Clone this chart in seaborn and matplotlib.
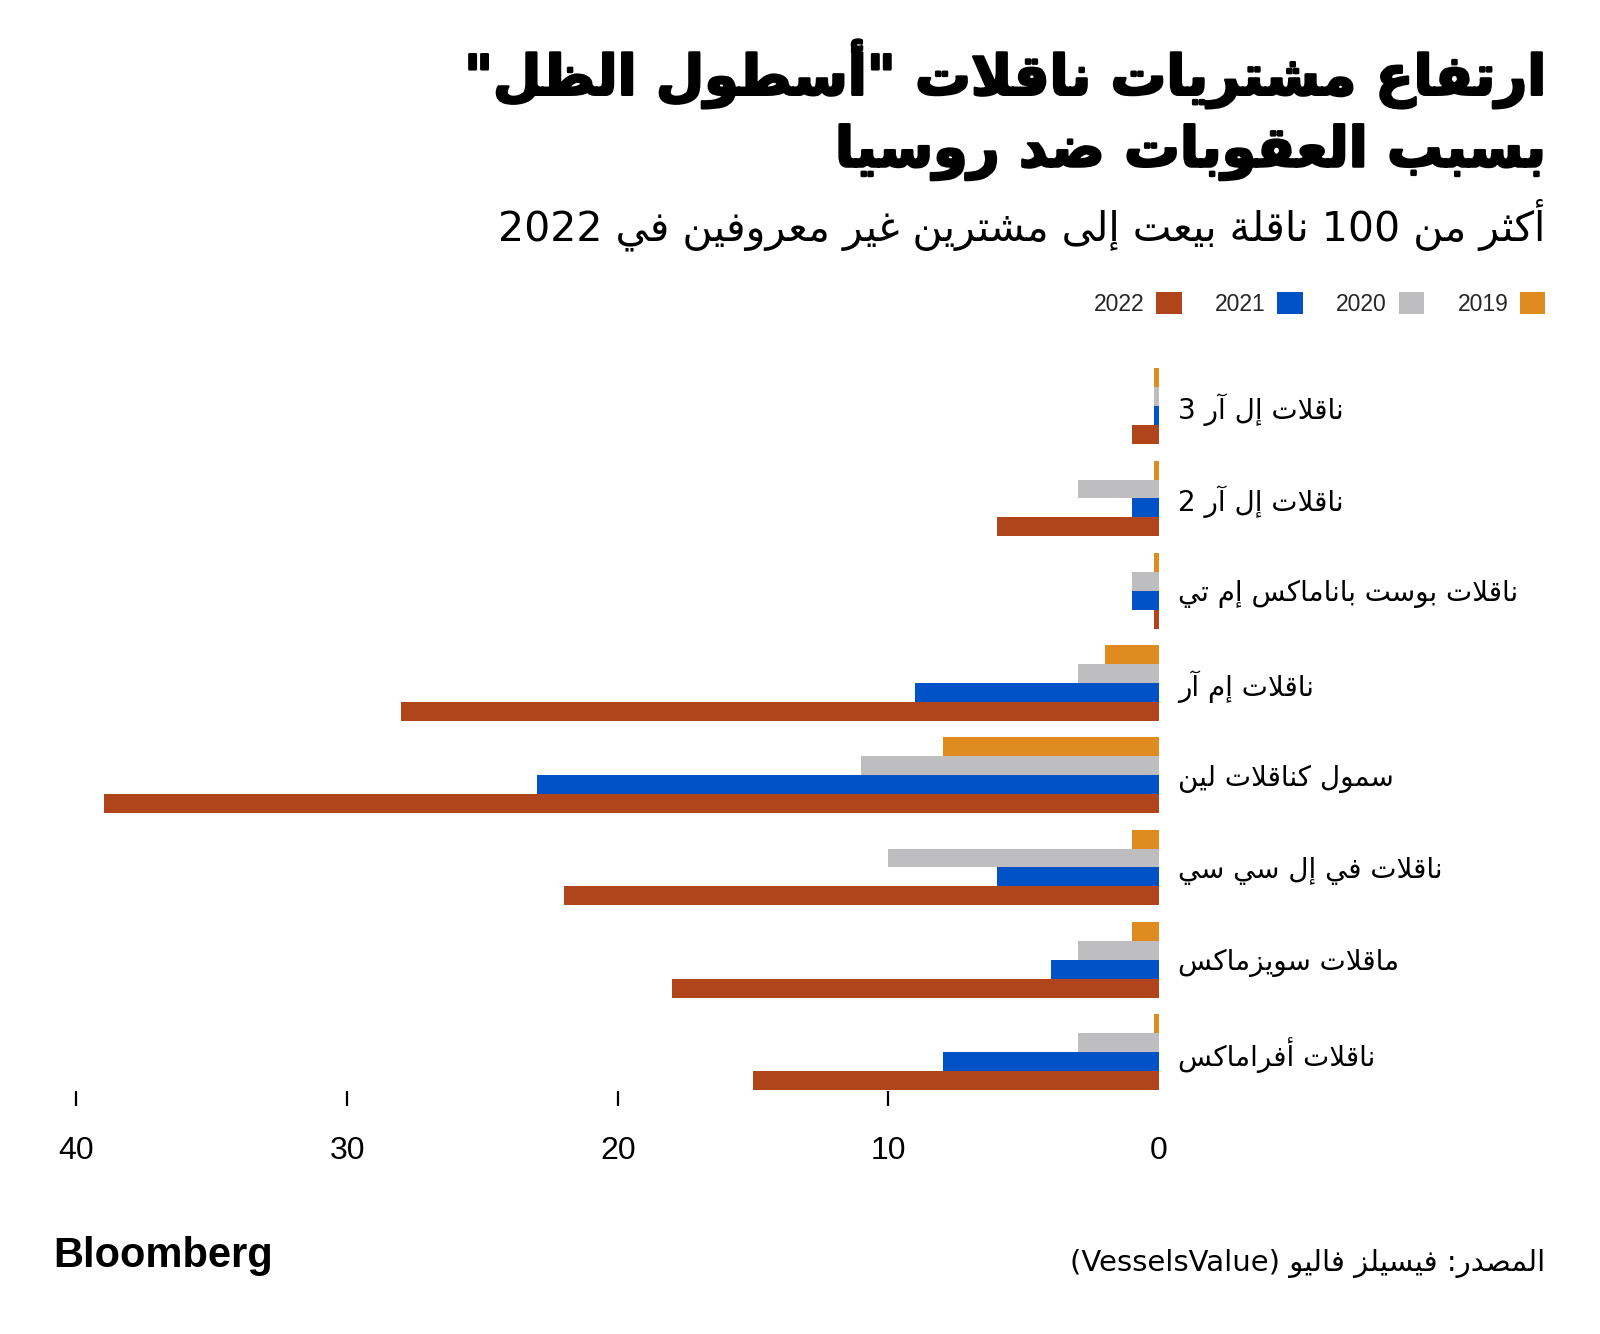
import matplotlib
matplotlib.use("Agg")
import matplotlib.pyplot as plt
import matplotlib.patheffects as pe
import seaborn as sns
import pandas as pd

# ---------------- data ----------------
categories = ["ناقلات إل آر 3", "ناقلات إل آر 2", "ناقلات بوست باناماكس إم تي",
              "ناقلات إم آر", "سمول كناقلات لين", "ناقلات في إل سي سي",
              "ماقلات سويزماكس", "ناقلات أفراماكس"]
years = ["2019", "2020", "2021", "2022"]
v2019 = [0.2, 0.2, 0.2, 2, 8, 1, 1, 0.2]
v2020 = [0.2, 3, 1, 3, 11, 10, 3, 3]
v2021 = [0.2, 1, 1, 9, 23, 6, 4, 8]
v2022 = [1, 6, 0.2, 28, 39, 22, 18, 15]
colors = ["#E08B20", "#BEBEC1", "#0052C6", "#B0451C"]
xticks = [0, 10, 20, 30, 40]

title_l1 = 'ارتفاع مشتريات ناقلات "أسطول الظل"'
title_l2 = "بسبب العقوبات ضد روسيا"
subtitle = "أكثر من 100 ناقلة بيعت إلى مشترين غير معروفين في 2022"
source = "المصدر: فيسيلز فاليو (VesselsValue)"

# ---------------- minimal Arabic shaping ----------------
_DUAL = {'ئ': 0xFE89, 'ب': 0xFE8F, 'ت': 0xFE95, 'ث': 0xFE99, 'ج': 0xFE9D, 'ح': 0xFEA1,
         'خ': 0xFEA5, 'س': 0xFEB1, 'ش': 0xFEB5, 'ص': 0xFEB9, 'ض': 0xFEBD, 'ط': 0xFEC1,
         'ظ': 0xFEC5, 'ع': 0xFEC9, 'غ': 0xFECD, 'ف': 0xFED1, 'ق': 0xFED5, 'ك': 0xFED9,
         'ل': 0xFEDD, 'م': 0xFEE1, 'ن': 0xFEE5, 'ه': 0xFEE9, 'ي': 0xFEF1}
_RIGHT = {'آ': 0xFE81, 'أ': 0xFE83, 'ؤ': 0xFE85, 'إ': 0xFE87, 'ا': 0xFE8D, 'ة': 0xFE93,
          'د': 0xFEA9, 'ذ': 0xFEAB, 'ر': 0xFEAD, 'ز': 0xFEAF, 'و': 0xFEED, 'ى': 0xFEEF}
_LAMALEF = {'آ': 0xFEF5, 'أ': 0xFEF7, 'إ': 0xFEF9, 'ا': 0xFEFB}


def ar(s):
    units = []
    i = 0
    while i < len(s):
        c = s[i]
        if c == 'ل' and i + 1 < len(s) and s[i + 1] in _LAMALEF:
            units.append(('D2R', _LAMALEF[s[i + 1]]))
            i += 2
            continue
        if c in _DUAL:
            units.append(('D', _DUAL[c]))
        elif c in _RIGHT:
            units.append(('R', _RIGHT[c]))
        else:
            units.append(('N', c))
        i += 1
    out = []
    for k, (t, v) in enumerate(units):
        if t == 'N':
            out.append(v)
            continue
        prev = k > 0 and units[k - 1][0] == 'D'
        if t in ('R', 'D2R'):
            out.append(chr(v + 1 if prev else v))
        else:
            nxt = k + 1 < len(units) and units[k + 1][0] in ('D', 'R', 'D2R')
            off = 3 if (prev and nxt) else 1 if prev else 2 if nxt else 0
            out.append(chr(v + off))
    runs, buf = [], ''
    for ch in out:
        if ch.isascii() and ch.isalnum():
            buf += ch
        else:
            if buf:
                runs.append(buf)
                buf = ''
            runs.append({'(': ')', ')': '('}.get(ch, ch))
    if buf:
        runs.append(buf)
    return ''.join(reversed(runs))


# ---------------- frame ----------------
rows = []
for yr, vals in zip(years, [v2019, v2020, v2021, v2022]):
    for cat, v in zip(categories, vals):
        rows.append({"category": ar(cat), "year": yr, "value": v})
df = pd.DataFrame(rows)

sns.set_theme(style="white")
plt.rcParams['font.family'] = ['DejaVu Sans']

fig = plt.figure(figsize=(16, 13.34), dpi=100)
fig.patch.set_facecolor("white")
ax = fig.add_axes([0.0478, 0.1824, 0.6766, 0.5421])

sns.barplot(data=df, y="category", x="value", hue="year", hue_order=years,
            order=[ar(c) for c in categories], palette=colors, orient="h",
            width=0.82, saturation=1, ax=ax, legend=True, linewidth=0)

ax.set_xlim(40, 0)
ax.set_ylim(7.42, -0.42)
for s in ax.spines.values():
    s.set_visible(False)
ax.set_xlabel("")
ax.set_ylabel("")
ax.set_xticks(xticks)
ax.set_xticklabels([str(t) for t in xticks],
                   fontdict={"family": ["Liberation Sans Narrow", "Liberation Sans", "DejaVu Sans"],
                             "size": 23})
ax.tick_params(axis="x", direction="out", length=11, width=1.6, color="black",
               pad=21.5, labelcolor="black", bottom=True)
ax.xaxis.get_major_ticks()[0].tick1line.set_visible(False)
ax.tick_params(axis="y", left=False, right=False, labelleft=False, labelright=True,
               pad=8, labelsize=20, labelcolor="black")
for lab in ax.get_yticklabels():
    lab.set_ha("left")
    lab.set_family("DejaVu Sans")

# legend
h, l = ax.get_legend_handles_labels()
ax.get_legend().remove()
fig.legend(h[::-1], l[::-1], loc="upper right", bbox_to_anchor=(0.9785, 0.7965),
           ncol=4, frameon=False, markerfirst=False, handlelength=1.1,
           handleheight=1.1, handletextpad=0.5, columnspacing=1.47,
           prop={"family": ["Liberation Sans", "DejaVu Sans"], "size": 16.5})

# titles
heavy = [pe.withStroke(linewidth=1.8, foreground="black")]
fig.text(0.966, 1 - 74 / 1334, ar(title_l1), ha="right", va="center",
         fontsize=40, fontweight="bold", family="DejaVu Sans", color="black",
         path_effects=heavy)
fig.text(0.966, 1 - 152 / 1334, ar(title_l2), ha="right", va="center",
         fontsize=40, fontweight="bold", family="DejaVu Sans", color="black",
         path_effects=heavy)
fig.text(0.966, 1 - 225 / 1334, ar(subtitle), ha="right", va="center",
         fontsize=29.5, family="DejaVu Sans", color="black")

# footer
fig.text(0.966, 1 - 1263 / 1334, ar(source), ha="right", va="center",
         fontsize=21, family="DejaVu Sans", color="black")
fig.text(0.033, 1 - 1256 / 1334, "Bloomberg", ha="left", va="center",
         fontsize=30, fontweight="bold", family=["Liberation Sans", "DejaVu Sans"],
         color="black")

fig.savefig("out.png", dpi=100, facecolor="white")
